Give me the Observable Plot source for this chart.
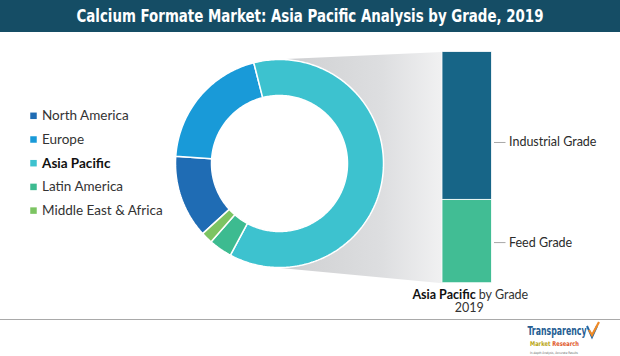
<!DOCTYPE html>
<html><head><meta charset="utf-8">
<script src="https://cdn.jsdelivr.net/npm/d3@7"></script>
<script src="https://cdn.jsdelivr.net/npm/@observablehq/plot@0.6"></script>
<style>
html,body{margin:0;padding:0;background:#fff;}
#page{width:620px;height:356px;position:relative;overflow:hidden;font-family:Lato,sans-serif;}
#title{height:32px;background:#154d65;position:relative;overflow:hidden;}
#title span{position:absolute;left:310px;top:5px;white-space:nowrap;color:#fff;font-family:'Liberation Sans Narrow','DejaVu Sans Condensed',Roboto,sans-serif;font-weight:bold;font-size:18px;line-height:22px;transform-origin:0 0;}
#chart svg,#footer svg{display:block;overflow:visible;}
#footer{height:36px;border-top:1px solid #a9a9a9;position:relative;}
</style></head><body>
<div id="page">
  <div id="title"><span id="ttl">Calcium Formate Market: Asia Pacific Analysis by Grade, 2019</span></div>
  <div id="chart"></div>
  <div id="footer"><svg width="620" height="36">
    <text x="527.5" y="15" font-family="'Liberation Sans Narrow','DejaVu Sans Condensed',sans-serif" font-weight="bold" font-size="12" fill="#245d92" textLength="59" lengthAdjust="spacingAndGlyphs">Transparency</text>
    <text x="530" y="25.5" font-family="'Liberation Sans Narrow','DejaVu Sans Condensed',sans-serif" font-weight="bold" font-size="6.5" textLength="49" lengthAdjust="spacingAndGlyphs"><tspan fill="#b9a514">Market</tspan> <tspan fill="#e0572a">Research</tspan></text>
    <text x="530" y="33.5" font-family="'DejaVu Sans',sans-serif" font-size="3.4" fill="#666" textLength="48" lengthAdjust="spacingAndGlyphs">In-depth Analysis, Accurate Results</text>
    <path d="M587,6 L592,17 L597,6" fill="none" stroke="#2466a3" stroke-width="2"/>
    <path d="M589,10 L592,15 L599,2" fill="none" stroke="#ef8a26" stroke-width="2.2"/>
  </svg></div>
</div>
<script>
// ---- data ----
const regions = ["North America", "Europe", "Asia Pacific", "Latin America", "Middle East & Africa"];
const regionShares = [12.9, 19.9, 61.8, 3.6, 1.8];
const regionColors = ["#1f6cb4", "#199ad8", "#3dc2cf", "#3dbb90", "#7cc462"];
const highlight = "Asia Pacific";
const grades = ["Industrial Grade", "Feed Grade"];
const gradeShares = [64, 36];
const gradeColors = ["#176587", "#41bd94"];
const captionRest = "by Grade";
const captionYear = "2019";

// ---- title fit ----
(function () {
  const t = document.getElementById("ttl");
  const w = t.getBoundingClientRect().width;
  const s = Math.min(1.2, 467 / w);
  t.style.transform = `scaleX(${s}) translateX(-50%)`;
})();

// ---- layout ----
const TOP = 32, BOTTOM = 319, W = 620;
const cx = 279, cy = 163, R = 104, r = 68, startDeg = 227.6;
const bar = {x1: 442, x2: 491.5, y1: 51.5, y2: 282.7};
const legend = {x: 33, y0: 115.3, dy: 23.7, size: 6.5, tx: 41.5};
const labelDy = [16.5, 1];

const rad = d => d * Math.PI / 180;
const px = (rr, deg) => cx + rr * Math.sin(rad(deg));
const py = (rr, deg) => cy - rr * Math.cos(rad(deg));

// donut polygons
const total = d3.sum(regionShares);
let acc = startDeg;
const arcPts = [];
regions.forEach((name, i) => {
  const span = regionShares[i] / total * 360;
  const a0 = acc, a1 = acc + span; acc = a1;
  const n = Math.max(2, Math.ceil(span));
  for (let k = 0; k <= n; k++) { const a = a0 + (a1 - a0) * k / n; arcPts.push({name, color: regionColors[i], x: px(R, a), y: py(R, a)}); }
  for (let k = n; k >= 0; k--) { const a = a0 + (a1 - a0) * k / n; arcPts.push({name, color: regionColors[i], x: px(r, a), y: py(r, a)}); }
});

// projection (tangents from bar corners to the donut)
function tangentDeg(P, sign) {
  const dx = P[0] - cx, dy = P[1] - cy;
  const d = Math.hypot(dx, dy);
  const th = Math.atan2(dx, -dy) * 180 / Math.PI;
  const b = Math.acos(R / d) * 180 / Math.PI;
  return th + sign * b;
}
const tTop = tangentDeg([bar.x1, bar.y1], -1);
const tBot = tangentDeg([bar.x1, bar.y2], +1);
const projPts = [{x: px(R, tTop), y: py(R, tTop)}, {x: bar.x1, y: bar.y1}, {x: bar.x1, y: bar.y2}, {x: px(R, tBot), y: py(R, tBot)}];
for (let k = 1; k < 60; k++) { const a = tBot + (tTop - tBot) * k / 60; projPts.push({x: px(R, a), y: py(R, a)}); }

// bar rows
const gTotal = d3.sum(gradeShares);
let gacc = 0;
const gradeRows = grades.map((name, i) => {
  const y1 = bar.y1 + gacc / gTotal * (bar.y2 - bar.y1);
  gacc += gradeShares[i];
  const y2 = bar.y1 + gacc / gTotal * (bar.y2 - bar.y1);
  const ly = (y1 + y2) / 2 + labelDy[i];
  return {name, color: gradeColors[i], x1: bar.x1, x2: bar.x2, y1, y2, lx1: bar.x2 + 2, lx2: bar.x2 + 13.5, ly, tx: bar.x2 + 17};
});

// legend rows
const legendRows = regions.map((name, i) => ({name, color: regionColors[i], x: legend.x, tx: legend.tx, y: legend.y0 + i * legend.dy}));

const capX = (bar.x1 + bar.x2) / 2;
const capRows = [{hl: highlight, rest: captionRest, year: captionYear, xs: capX + 8.5, xr: capX + 11.5, xm: capX + 2, y1: 294, y2: 307.5}];

const chart = Plot.plot({
  width: W, height: BOTTOM - TOP,
  margin: 0,
  x: {domain: [0, W], range: [0, W], axis: null},
  y: {domain: [TOP, BOTTOM], range: [0, BOTTOM - TOP], axis: null},
  color: {type: "identity"},
  style: {fontFamily: "Lato, sans-serif", background: "transparent", overflow: "visible"},
  marks: [
    Plot.line(projPts, {x: "x", y: "y", fill: "url(#apGrad)", stroke: "none", curve: "linear-closed"}),
    Plot.line(arcPts, {x: "x", y: "y", z: "name", fill: "color", stroke: "white", strokeWidth: 1.5, strokeLinejoin: "miter", curve: "linear-closed"}),
    Plot.rect(gradeRows, {x1: "x1", x2: "x2", y1: "y1", y2: "y2", fill: "color", stroke: "#ffffff", strokeWidth: 1, strokeOpacity: 0.8}),
    Plot.link(gradeRows, {x1: "lx1", x2: "lx2", y1: "ly", y2: "ly", stroke: "#a8a8a8", strokeWidth: 1}),
    Plot.text(gradeRows, {x: "tx", y: "ly", text: "name", textAnchor: "start", fontSize: 12.5, fill: "#2b2b2b"}),
    Plot.dot(legendRows, {x: "x", y: "y", symbol: "square", r: legend.size / Math.sqrt(Math.PI), fill: "color", stroke: "none"}),
    Plot.text(legendRows.filter(d => d.name !== highlight), {x: "tx", y: "y", text: "name", textAnchor: "start", fontSize: 13.5, fill: "#333333"}),
    Plot.text(legendRows.filter(d => d.name === highlight), {x: "tx", y: "y", text: "name", textAnchor: "start", fontSize: 13.5, fontWeight: "bold", fill: "#111111"}),
    Plot.text(capRows, {x: "xs", y: "y1", text: "hl", textAnchor: "end", fontSize: 12.5, fontWeight: "bold", fill: "#111111"}),
    Plot.text(capRows, {x: "xr", y: "y1", text: "rest", textAnchor: "start", fontSize: 12.5, fill: "#333333"}),
    Plot.text(capRows, {x: "xm", y: "y2", text: "year", textAnchor: "middle", fontSize: 12.5, fill: "#333333"})
  ]
});

const ns = "http://www.w3.org/2000/svg";
const defs = document.createElementNS(ns, "defs");
const grad = document.createElementNS(ns, "linearGradient");
grad.setAttribute("id", "apGrad");
grad.setAttribute("x1", "0"); grad.setAttribute("x2", "1"); grad.setAttribute("y1", "0"); grad.setAttribute("y2", "0");
[[0, "#c9cacd"], [0.25, "#d3d4d6"], [0.65, "#dddee0"], [1, "#f1f1f2"]].forEach(([o, c]) => {
  const s = document.createElementNS(ns, "stop");
  s.setAttribute("offset", o); s.setAttribute("stop-color", c);
  grad.appendChild(s);
});
defs.appendChild(grad);
chart.insertBefore(defs, chart.firstChild);
document.getElementById("chart").appendChild(chart);
</script>
</body></html>
